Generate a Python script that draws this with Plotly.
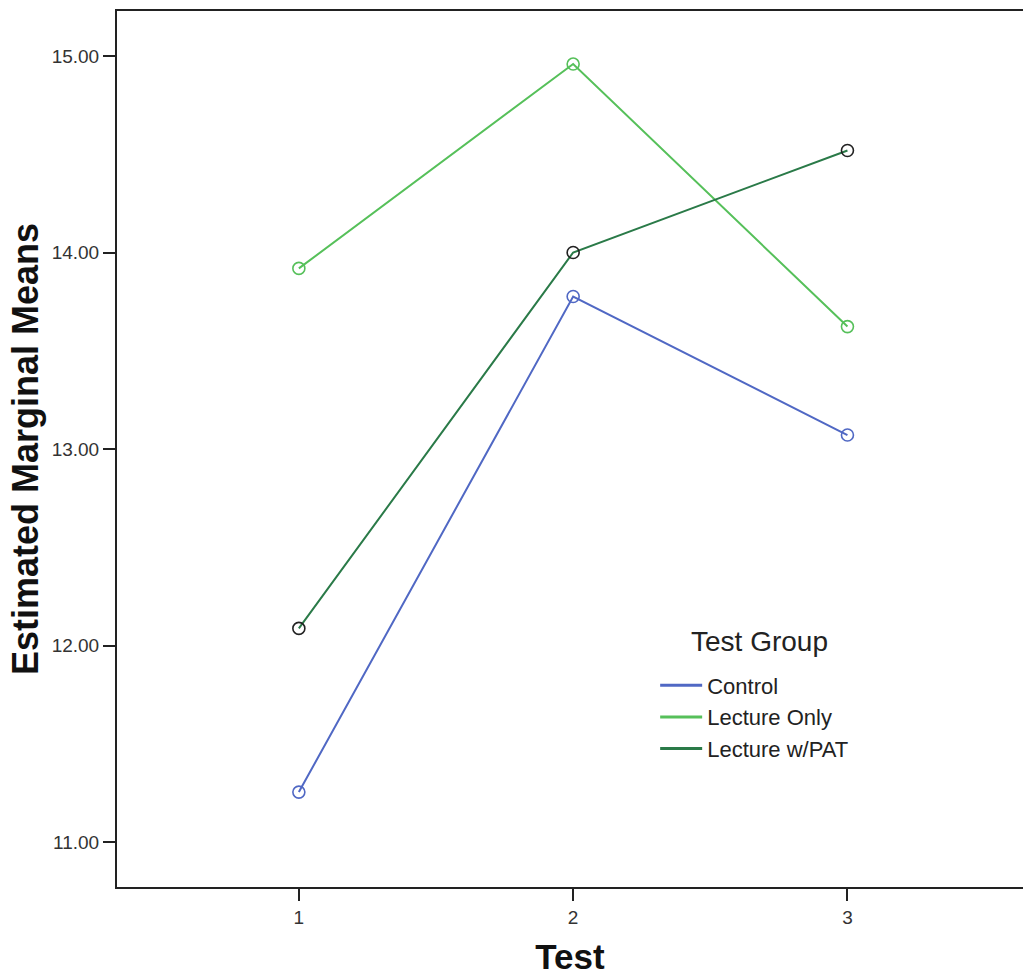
import plotly.graph_objects as go

tests = [1, 2, 3]
control = [11.254, 13.776, 13.071]
lecture_only = [13.919, 14.959, 13.623]
lecture_pat = [12.087, 14.00, 14.519]

series = [
    ("Control", control, "#5068c4", "#5068c4"),
    ("Lecture Only", lecture_only, "#56c05a", "#56c05a"),
    ("Lecture w/PAT", lecture_pat, "#2a7a48", "#222222"),
]

fig = go.Figure()
for name, vals, lc, mc in series:
    fig.add_trace(go.Scatter(
        x=tests, y=vals, name=name, mode="lines+markers", showlegend=False,
        line=dict(color=lc, width=2),
        marker=dict(symbol="circle-open", size=12, color=mc, line=dict(width=1.6, color=mc)),
    ))
for name, vals, lc, mc in series:
    fig.add_trace(go.Scatter(
        x=[None], y=[None], name=name, mode="lines",
        line=dict(color=lc, width=3), showlegend=True,
    ))

fig.add_annotation(
    text="Test Group", xref="paper", yref="paper",
    x=0.7097, y=0.2797, xanchor="center", yanchor="middle",
    showarrow=False, font=dict(size=28, color="#222222"),
)

fig.update_layout(
    width=1023, height=980,
    margin=dict(l=117, r=0, t=11, b=93),
    paper_bgcolor="white", plot_bgcolor="white",
    font=dict(family="Liberation Sans, Arial, sans-serif", color="#333333"),
    showlegend=True,
    legend=dict(
        x=0.594, y=0.254, xanchor="left", yanchor="top",
        font=dict(size=22, color="#222222"),
        itemwidth=42, tracegroupgap=0,
        bgcolor="rgba(0,0,0,0)",
    ),
    xaxis=dict(
        range=[0.337, 3.64], tickvals=tests, ticktext=["1", "2", "3"],
        ticks="outside", ticklen=12, tickwidth=2, tickcolor="#222222",
        showline=True, linecolor="#222222", linewidth=2, mirror=True,
        showgrid=False, zeroline=False,
        tickfont=dict(size=19, color="#333333"),
        title=dict(text="<b>Test</b>", font=dict(size=35, color="#111111"), standoff=18),
    ),
    yaxis=dict(
        range=[10.771, 15.229], tickvals=[11, 12, 13, 14, 15],
        ticktext=["11.00", "12.00", "13.00", "14.00", "15.00"],
        ticks="outside", ticklen=12, tickwidth=2, tickcolor="#222222",
        showline=True, linecolor="#222222", linewidth=2,
        showgrid=False, zeroline=False,
        tickfont=dict(size=19, color="#333333"),
        title=dict(text="<b>Estimated Marginal Means</b>", font=dict(size=36, color="#111111"), standoff=2),
    ),
)

fig.write_html("out.html")
